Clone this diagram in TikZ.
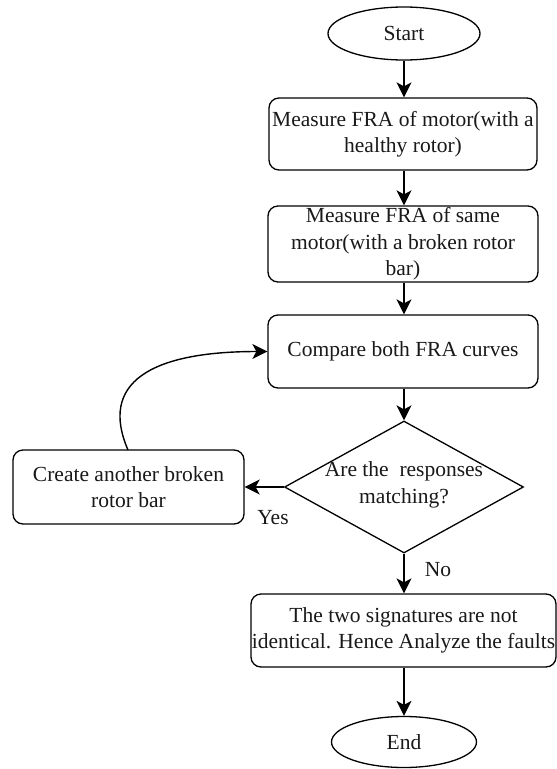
\documentclass[tikz,border=0pt]{standalone}
\usepackage{fontspec}
\setmainfont{Liberation Serif}
\usetikzlibrary{shapes.geometric,arrows.meta}
\begin{document}
\begin{tikzpicture}[x=1pt,y=-1pt,
  every node/.style={font=\fontsize{21.5}{26.5}\selectfont, text=black!90},
  box/.style={draw, line width=1.3pt, rounded corners=10pt, inner sep=0pt, align=center},
  term/.style={draw, ellipse, line width=1.3pt, inner sep=0pt},
  decision/.style={draw, diamond, line width=1.3pt, inner sep=0pt},
  txt/.style={inner sep=0pt, align=center},
  arr/.style={line width=1.4pt, -{Stealth[length=15pt, width=15pt, inset=4pt]}}
]
\useasboundingbox (0,0) rectangle (557,769);
\fill[white] (0,0) rectangle (557,769);

\node[term, minimum width=152pt, minimum height=53pt] (start) at (404,33.5) {Start};
\node[box, minimum width=268pt, minimum height=72pt] (b1) at (403,134) {Measure FRA of motor(with a\\healthy rotor)};
\node[box, minimum width=270pt, minimum height=76pt] (b2) at (403,244) {Measure FRA of same\\motor(with a broken rotor\\bar)};
\node[box, minimum width=270pt, minimum height=73pt] (cmp) at (403,351.5) {Compare both FRA curves};
\node[decision, minimum width=239pt, minimum height=132pt] (d) at (404,487) {};
\node[txt] (dt) at (404,485) {Are the\ \ responses\\matching?};
\node[box, minimum width=231pt, minimum height=74pt] (cr) at (128.5,487) {Create another broken\\rotor bar};
\node[box, minimum width=305pt, minimum height=73pt] (fin) at (403.5,630.5) {The two signatures are not\\identical. Hence Analyze the faults};
\node[term, minimum width=145pt, minimum height=51pt] (end) at (404,742) {End};

\node[txt] (yes) at (273,518) {Yes};
\node[txt] (no) at (438,570) {No};

\draw[arr] (start.south) -- (start.south |- b1.north);
\draw[arr] (b1.south -| start.south) -- (start.south |- b2.north);
\draw[arr] (b2.south -| start.south) -- (start.south |- cmp.north);
\draw[arr] (cmp.south -| d.north) -- (d.north);
\draw[arr] (d.south) -- (d.south |- fin.north);
\draw[arr] (fin.south -| end.north) -- (end.north);
\draw[arr] (d.west) -- (cr.east);
\coordinate (cs) at (128,450);
\draw[arr] (cs) .. controls (99,383) and (150,351.5) .. (cmp.west);
\end{tikzpicture}
\end{document}
